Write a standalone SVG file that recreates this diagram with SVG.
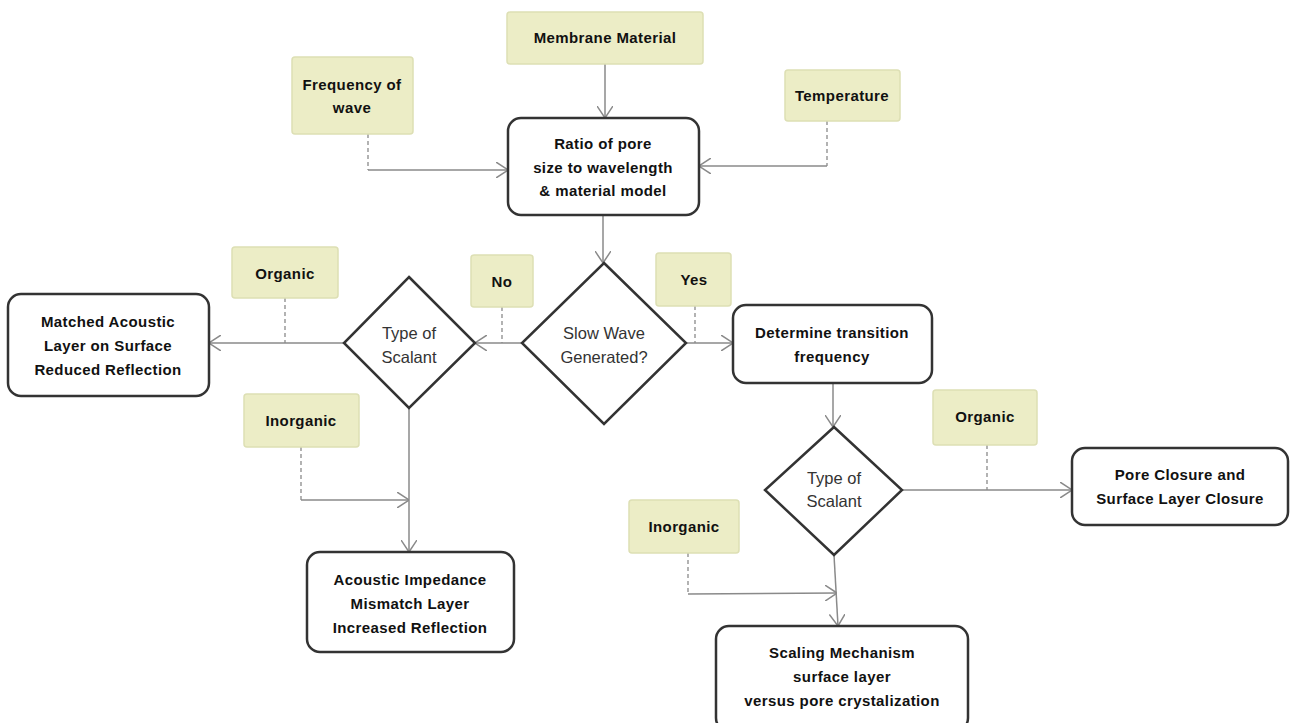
<svg xmlns="http://www.w3.org/2000/svg" width="1290" height="723" viewBox="0 0 1290 723">
<style>
.note{fill:#ecedc6;stroke:#dddfb4;stroke-width:1.5}
.box{fill:#fff;stroke:#333;stroke-width:2.5}
.dia{fill:#fff;stroke:#333;stroke-width:2.5}
.bt{font-family:"Liberation Sans",Arial,sans-serif;font-weight:bold;font-size:15px;fill:#111;text-anchor:middle;letter-spacing:0.4px}
.dt{font-family:"Liberation Sans",Arial,sans-serif;font-size:16.5px;fill:#333;text-anchor:middle}
.ln{fill:none;stroke:#8a8a8a;stroke-width:1.5}
.ds{fill:none;stroke:#8a8a8a;stroke-width:1.3;stroke-dasharray:4,3}
</style>
<defs>
<marker id="arr" viewBox="0 0 12 16" refX="12" refY="8" markerWidth="12" markerHeight="16" markerUnits="userSpaceOnUse" orient="auto">
<path d="M0,0 L12,8 L0,16" fill="none" stroke="#8a8a8a" stroke-width="1.5"/>
</marker>
</defs>
<rect width="1290" height="723" fill="#fff"/>

<g id="connectors">
<line class="ln" x1="605" y1="64" x2="605" y2="118" marker-end="url(#arr)"/>
<path class="ds" d="M368,134 V170"/>
<path class="ln" d="M368,170 H508" marker-end="url(#arr)"/>
<path class="ds" d="M827,121 V166"/>
<path class="ln" d="M827,166 H699" marker-end="url(#arr)"/>
<line class="ln" x1="603" y1="215" x2="603" y2="263" marker-end="url(#arr)"/>
<line class="ln" x1="522" y1="343" x2="475" y2="343" marker-end="url(#arr)"/>
<path class="ds" d="M502,307 V343"/>
<line class="ln" x1="686" y1="343" x2="733" y2="343" marker-end="url(#arr)"/>
<path class="ds" d="M695,306 V343"/>
<line class="ln" x1="344" y1="343" x2="209" y2="343" marker-end="url(#arr)"/>
<path class="ds" d="M285,298 V343"/>
<line class="ln" x1="409" y1="408" x2="409" y2="552" marker-end="url(#arr)"/>
<path class="ds" d="M301,447 V500"/>
<path class="ln" d="M301,500 H409" marker-end="url(#arr)"/>
<line class="ln" x1="833" y1="383" x2="833" y2="427" marker-end="url(#arr)"/>
<line class="ln" x1="902" y1="490" x2="1072" y2="490" marker-end="url(#arr)"/>
<path class="ds" d="M987,445 V490"/>
<line class="ln" x1="834" y1="555" x2="838" y2="626" marker-end="url(#arr)"/>
<path class="ds" d="M688,553 V594"/>
<path class="ln" d="M688,594 L837,593" marker-end="url(#arr)"/>
</g>

<g id="membrane">
<rect class="note" x="507" y="12" width="196" height="52" rx="3"/>
<text class="bt" x="605" y="43">Membrane Material</text>
</g>
<g id="frequency">
<rect class="note" x="292" y="57" width="121" height="77" rx="3"/>
<text class="bt" x="352" y="90">Frequency of</text>
<text class="bt" x="352" y="113">wave</text>
</g>
<g id="temperature">
<rect class="note" x="785" y="70" width="115" height="51" rx="3"/>
<text class="bt" x="842" y="101">Temperature</text>
</g>
<g id="ratio">
<rect class="box" x="508" y="118" width="191" height="97" rx="13"/>
<text class="bt" x="603" y="149">Ratio of pore</text>
<text class="bt" x="603" y="173">size to wavelength</text>
<text class="bt" x="603" y="196">&amp; material model</text>
</g>
<g id="slowwave">
<polygon class="dia" points="604,263 686,343 604,424 522,343"/>
<text class="dt" x="604" y="339">Slow Wave</text>
<text class="dt" x="604" y="363">Generated?</text>
</g>
<g id="no">
<rect class="note" x="471" y="255" width="62" height="52" rx="3"/>
<text class="bt" x="502" y="287">No</text>
</g>
<g id="yes">
<rect class="note" x="656" y="253" width="75" height="53" rx="3"/>
<text class="bt" x="694" y="285">Yes</text>
</g>
<g id="scalant-left">
<polygon class="dia" points="409,277 475,343 409,408 344,343"/>
<text class="dt" x="409" y="339">Type of</text>
<text class="dt" x="409" y="363">Scalant</text>
</g>
<g id="organic-left">
<rect class="note" x="232" y="247" width="106" height="51" rx="3"/>
<text class="bt" x="285" y="279">Organic</text>
</g>
<g id="matched">
<rect class="box" x="8" y="294" width="201" height="102" rx="13"/>
<text class="bt" x="108" y="327">Matched Acoustic</text>
<text class="bt" x="108" y="351">Layer on Surface</text>
<text class="bt" x="108" y="375">Reduced Reflection</text>
</g>
<g id="inorganic-left">
<rect class="note" x="244" y="394" width="115" height="53" rx="3"/>
<text class="bt" x="301" y="426">Inorganic</text>
</g>
<g id="impedance">
<rect class="box" x="307" y="552" width="207" height="100" rx="13"/>
<text class="bt" x="410" y="585">Acoustic Impedance</text>
<text class="bt" x="410" y="609">Mismatch Layer</text>
<text class="bt" x="410" y="633">Increased Reflection</text>
</g>
<g id="transition">
<rect class="box" x="733" y="305" width="199" height="78" rx="13"/>
<text class="bt" x="832" y="338">Determine transition</text>
<text class="bt" x="832" y="362">frequency</text>
</g>
<g id="scalant-right">
<polygon class="dia" points="834,427 902,490 834,555 765,490"/>
<text class="dt" x="834" y="484">Type of</text>
<text class="dt" x="834" y="507">Scalant</text>
</g>
<g id="organic-right">
<rect class="note" x="933" y="390" width="104" height="55" rx="3"/>
<text class="bt" x="985" y="422">Organic</text>
</g>
<g id="pore">
<rect class="box" x="1072" y="448" width="216" height="77" rx="13"/>
<text class="bt" x="1180" y="480">Pore Closure and</text>
<text class="bt" x="1180" y="504">Surface Layer Closure</text>
</g>
<g id="inorganic-right">
<rect class="note" x="629" y="500" width="110" height="53" rx="3"/>
<text class="bt" x="684" y="532">Inorganic</text>
</g>
<g id="scaling">
<rect class="box" x="716" y="626" width="252" height="105" rx="13"/>
<text class="bt" x="842" y="658">Scaling Mechanism</text>
<text class="bt" x="842" y="682">surface layer</text>
<text class="bt" x="842" y="706">versus pore crystalization</text>
</g>
</svg>
